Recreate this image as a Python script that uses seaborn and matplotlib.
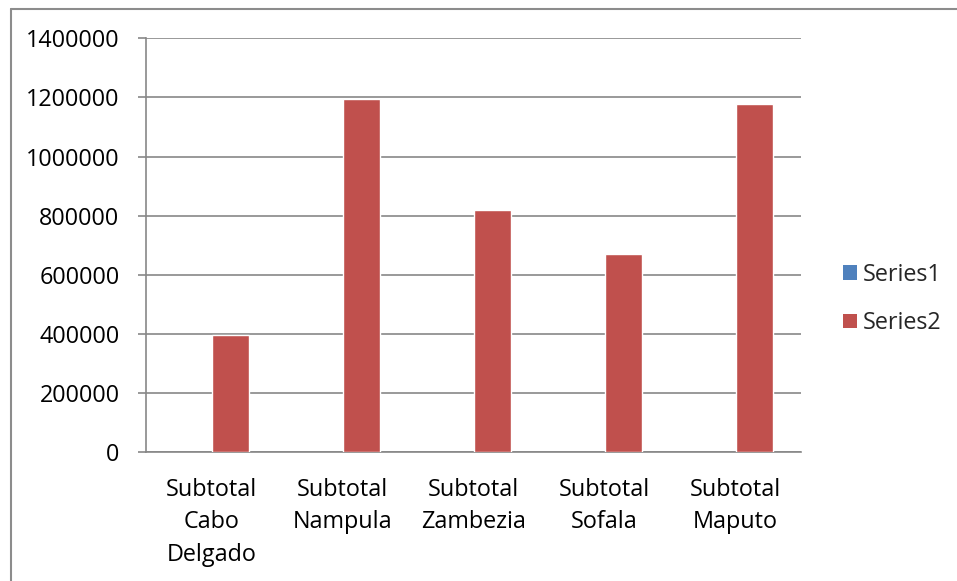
import matplotlib
matplotlib.use("Agg")
import matplotlib.pyplot as plt
import seaborn as sns
import pandas as pd
from matplotlib.lines import Line2D

categories = ["Subtotal\nCabo\nDelgado", "Subtotal\nNampula", "Subtotal\nZambezia",
              "Subtotal\nSofala", "Subtotal\nMaputo"]
series1 = [0, 0, 0, 0, 0]
series2 = [395500, 1194500, 817500, 669500, 1177500]
series_names = ["Series1", "Series2"]
y_ticks = [0, 200000, 400000, 600000, 800000, 1000000, 1200000, 1400000]

df = pd.DataFrame({
    "category": categories * 2,
    "value": series1 + series2,
    "series": [series_names[0]] * len(categories) + [series_names[1]] * len(categories),
})

sns.set_theme(style="white")
plt.rcParams["font.family"] = ["Open Sans", "DejaVu Sans"]

FS = 16.8

fig = plt.figure(figsize=(9.57, 5.81), dpi=100)
ax = fig.add_axes([146 / 957, 1 - 452 / 581, (801 - 146) / 957, (452 - 38.3) / 581])

palette = {"Series1": "#4F81BD", "Series2": "#C0504D"}
sns.barplot(data=df, x="category", y="value", hue="series", palette=palette,
            width=0.571, dodge=True, ax=ax, edgecolor="white", linewidth=1.0,
            saturation=1, zorder=3)
for p in ax.patches:
    if p.get_height() == 0:
        p.set_linewidth(0)

grid_c = "#878787"
ax.set_ylim(0, 1400000)
ax.set_xlim(-0.5, len(categories) - 0.5)
ax.set_yticks(y_ticks)
ax.set_yticklabels([str(v) for v in y_ticks])
ax.yaxis.grid(True, color=grid_c, linewidth=1.2, zorder=0)
ax.set_axisbelow(True)
for s in ["top", "right"]:
    ax.spines[s].set_visible(False)
for s in ["left", "bottom"]:
    ax.spines[s].set_color(grid_c)
    ax.spines[s].set_linewidth(1.2)
ax.set_xlabel("")
ax.set_ylabel("")
ax.set_xticks([i - 0.5 for i in range(len(categories) + 1)], minor=True)
ax.tick_params(axis="x", which="major", length=0, pad=19, labelsize=FS, labelcolor="black")
ax.tick_params(axis="x", which="minor", length=6, color=grid_c, width=1.2, direction="out")
ax.tick_params(axis="y", length=6, color=grid_c, width=1.2, direction="out", pad=13,
               labelsize=FS, labelcolor="black", left=True)
for t in ax.get_xticklabels():
    t.set_linespacing(1.45)
    t.set_verticalalignment("top")

handles, labels = ax.get_legend_handles_labels()
ax.legend(handles, labels, loc="center left", bbox_to_anchor=(822 / 957, 1 - 299 / 581),
          bbox_transform=fig.transFigure, frameon=False, fontsize=FS,
          handlelength=0.6, handleheight=0.6, handletextpad=0.25, labelspacing=1.05)

border_c = "#8C8C8C"
fig.add_artist(Line2D([10.5 / 957, 10.5 / 957], [0, 1 - 9 / 581], color=border_c, lw=1.5,
                      transform=fig.transFigure))
fig.add_artist(Line2D([10.5 / 957, 1], [1 - 9 / 581, 1 - 9 / 581], color=border_c, lw=1.5,
                      transform=fig.transFigure))

fig.savefig("out.png", dpi=100)
